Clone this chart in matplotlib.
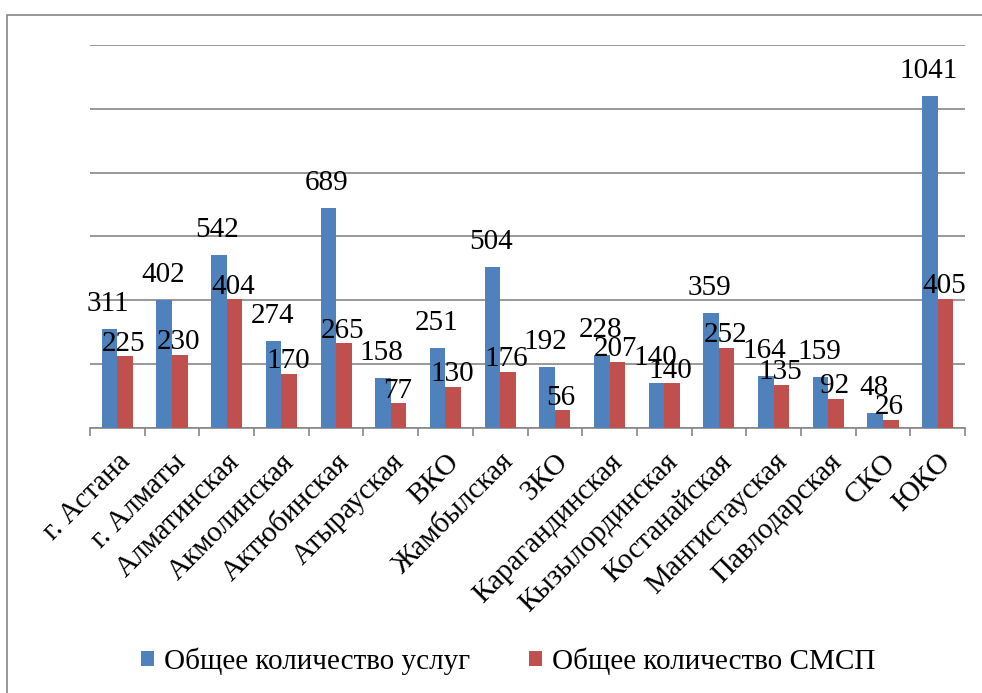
import numpy as np
import matplotlib.pyplot as plt
from matplotlib.patches import Rectangle

# Regions and the two series
regions = ["г. Астана", "г. Алматы", "Алматинская", "Акмолинская", "Актюбинская",
           "Атырауская", "ВКО", "Жамбылская", "ЗКО", "Карагандинская",
           "Кызылординская", "Костанайская", "Мангистауская", "Павлодарская",
           "СКО", "ЮКО"]
services = [311, 402, 542, 274, 689, 158, 251, 504, 192, 228, 140, 359, 164, 159, 48, 1041]
smsp = [225, 230, 404, 170, 265, 77, 130, 176, 56, 207, 140, 252, 135, 92, 26, 405]
series_names = ["Общее количество услуг", "Общее количество СМСП"]

plt.rcParams['font.family'] = ['Liberation Serif', 'DejaVu Serif']

blue = '#4F81BD'
red = '#C0504D'
grey = '#868686'
fs = 21

fig = plt.figure(figsize=(9.82, 6.93), dpi=100)
ax = fig.add_axes([90/982, 1-428/693, 875/982, 383/693])

# outer frame (cut off at right and bottom like the source)
fig.patches.append(Rectangle((7/982, -0.1), 1.2, 1 - 15/693 + 0.1, transform=fig.transFigure,
                             fill=False, edgecolor=grey, lw=1.2))

x = np.arange(len(regions))
w = 0.285
b1 = ax.bar(x - w/2, services, w, color=blue, label=series_names[0], zorder=3)
b2 = ax.bar(x + w/2, smsp, w, color=red, label=series_names[1], zorder=3)

for rect, v in zip(b1, services):
    ax.annotate(str(v), (rect.get_x() + rect.get_width()/2, v), xytext=(-1, 18),
                textcoords='offset points', ha='center', va='center', fontsize=fs, zorder=4)
for rect, v in zip(b2, smsp):
    ax.annotate(str(v), (rect.get_x() + rect.get_width()/2, v), xytext=(-1, 9),
                textcoords='offset points', ha='center', va='center', fontsize=fs, zorder=4)

ax.set_xlim(-0.5, len(regions) - 0.5)
ax.set_ylim(0, 1200)
ax.set_yticks(np.arange(0, 1201, 200))
ax.yaxis.grid(True, color=grey, lw=1.2, zorder=0)
ax.tick_params(axis='y', length=0, labelleft=False)

ax.set_xticks(x)
ax.set_xticklabels(regions, rotation=45, ha='right', va='top', rotation_mode='anchor', fontsize=fs)
ax.tick_params(axis='x', which='major', length=0, pad=15)
ax.set_xticks(np.arange(-0.5, len(regions), 1), minor=True)
ax.tick_params(axis='x', which='minor', length=6, color=grey, width=1.2)

for s in ['top', 'right', 'left']:
    ax.spines[s].set_visible(False)
ax.spines['bottom'].set_color(grey)
ax.spines['bottom'].set_linewidth(1.2)

fig.legend(handles=[b1, b2], loc='center', bbox_to_anchor=(508/982, 1-661/693), ncol=2,
           frameon=False, fontsize=fs, handlelength=0.45, handleheight=0.45,
           handletextpad=0.35, columnspacing=2.0)

fig.savefig('out.png', dpi=100)
